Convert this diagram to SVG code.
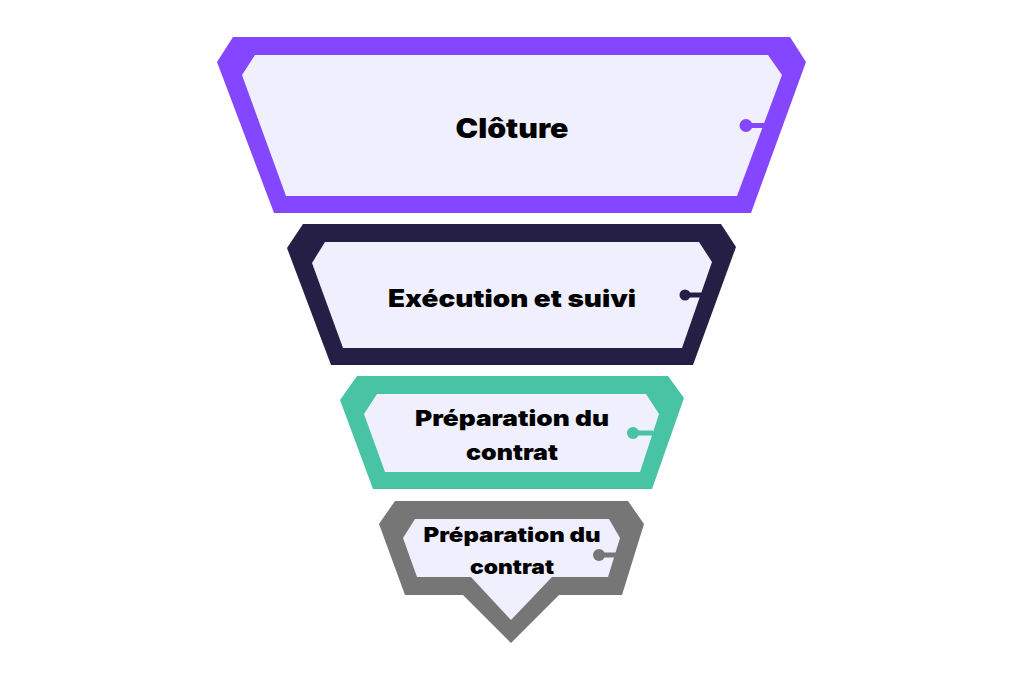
<svg xmlns="http://www.w3.org/2000/svg" width="1024" height="683" viewBox="0 0 1024 683">
  <style>
    .inner { fill: #F0EFFE; }
    .lbl { font-family: Inter, "Noto Sans", "Liberation Sans", sans-serif; font-weight: 900; fill: #000000; text-anchor: middle; }
    .p { fill: #8447FF; }
    .n { fill: #251E45; }
    .g { fill: #48C3A4; }
    .y { fill: #767676; }
  </style>
  <rect width="1024" height="683" fill="#FFFFFF"/>
  <g id="cloture">
    <polygon class="p" points="233,37 790,37 806,62 751,213 274,213 217,62"/>
    <polygon class="inner" points="255,55 768,55 782,75 737,196 286,196 242,75"/>
    <g id="conn1">
      <line x1="746" y1="125.5" x2="766" y2="125.5" stroke="#8447FF" stroke-width="5"/>
      <circle cx="746" cy="125.5" r="6.5" fill="#8447FF"/>
    </g>
    <text class="lbl" x="512" y="138" font-size="27" textLength="113" lengthAdjust="spacingAndGlyphs">Clôture</text>
  </g>
  <g id="execution">
    <polygon class="n" points="303,224 721,224 736,247 693,365 331,365 287,248"/>
    <polygon class="inner" points="325,242 699,242 712,262 682,348 343,348 312,263"/>
    <g id="conn2">
      <line x1="685" y1="295" x2="704" y2="295" stroke="#251E45" stroke-width="5"/>
      <circle cx="685" cy="295" r="5.5" fill="#251E45"/>
    </g>
    <text class="lbl" x="512" y="307" font-size="24" textLength="248" lengthAdjust="spacingAndGlyphs">Exécution et suivi</text>
  </g>
  <g id="preparation1">
    <polygon class="g" points="357,376 668,376 684,398 652,489 373,489 340,400"/>
    <polygon class="inner" points="377,394 646,394 659,414 640,472 385,472 364,414"/>
    <g id="conn3">
      <line x1="633" y1="433" x2="653" y2="433" stroke="#48C3A4" stroke-width="5"/>
      <circle cx="633" cy="433" r="6" fill="#48C3A4"/>
    </g>
    <text class="lbl" x="512" y="426" font-size="22" textLength="194" lengthAdjust="spacingAndGlyphs">Préparation du</text>
    <text class="lbl" x="512" y="460" font-size="22" textLength="92" lengthAdjust="spacingAndGlyphs">contrat</text>
  </g>
  <g id="preparation2">
    <polygon class="y" points="395,501 628,501 644,524 622,595 559,595 511,643 463,595 405,595 379,524"/>
    <polygon class="inner" points="415,519 609,519 620,538 608,577 552,577 511,620 471,577 417,577 403,538"/>
    <g id="conn4">
      <line x1="599" y1="555" x2="616" y2="555" stroke="#767676" stroke-width="5"/>
      <circle cx="599" cy="555" r="6" fill="#767676"/>
    </g>
    <text class="lbl" x="512" y="542" font-size="20" textLength="177" lengthAdjust="spacingAndGlyphs">Préparation du</text>
    <text class="lbl" x="512" y="574" font-size="20" textLength="84" lengthAdjust="spacingAndGlyphs">contrat</text>
  </g>
</svg>
